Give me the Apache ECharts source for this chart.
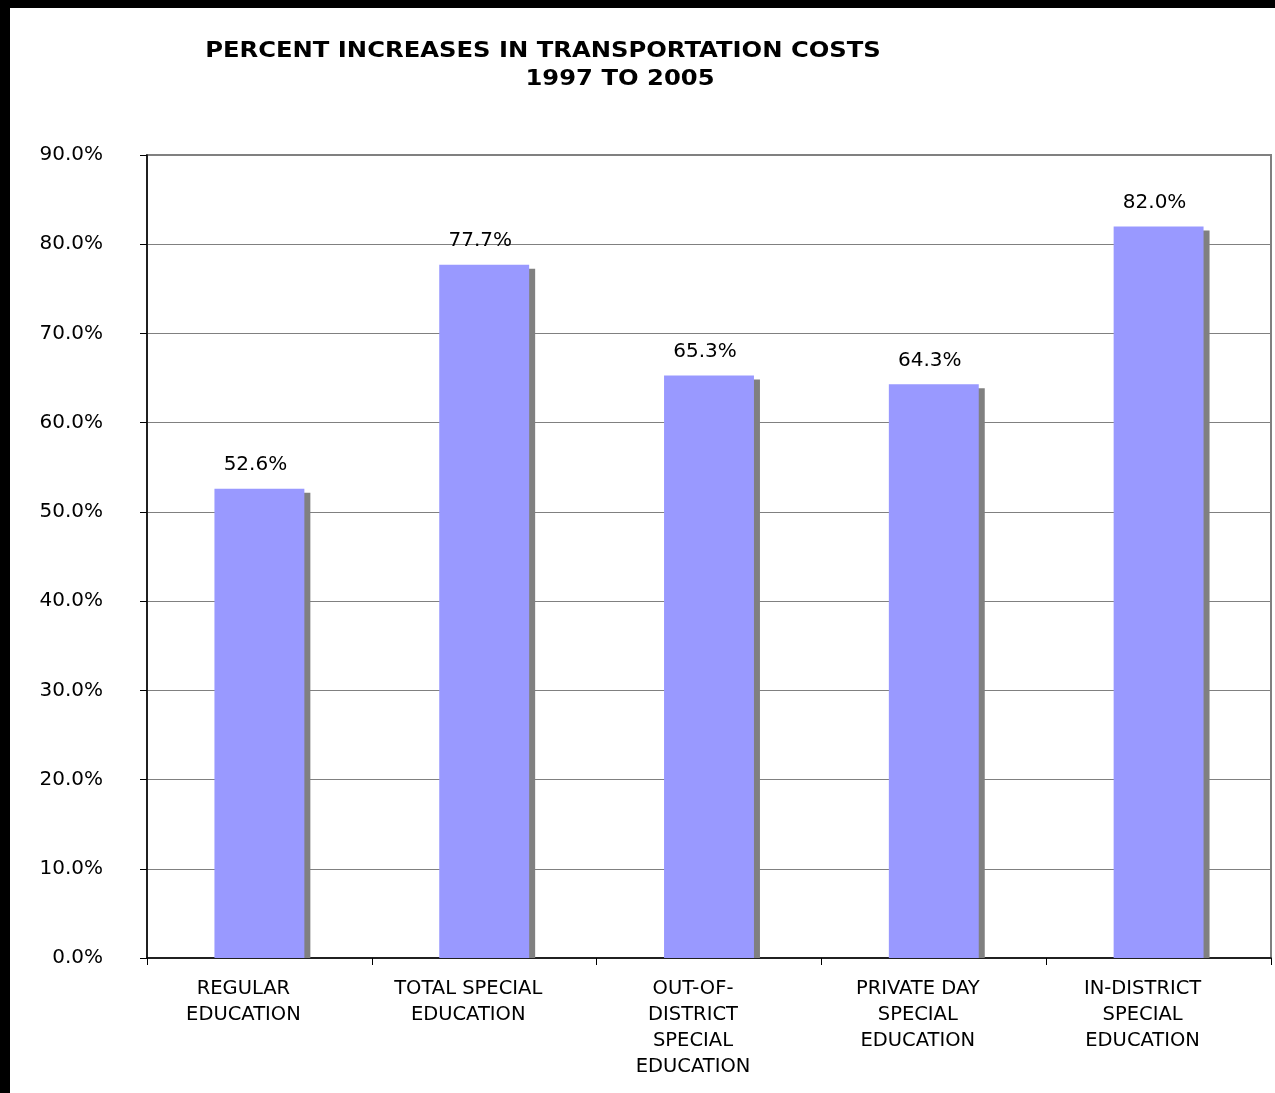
<!DOCTYPE html>
<html>
<head>
<meta charset="utf-8">
<script src="https://cdn.jsdelivr.net/npm/echarts@6/dist/echarts.min.js"></script>
<style>
  html, body { margin: 0; padding: 0; background: #000; }
  #chart { width: 1275px; height: 1093px; }
</style>
</head>
<body>
<div id="chart"></div>
<script>
// Transportation cost increases by program, 1997 to 2005
const categories = [
  'REGULAR\nEDUCATION',
  'TOTAL SPECIAL\nEDUCATION',
  'OUT-OF-\nDISTRICT\nSPECIAL\nEDUCATION',
  'PRIVATE DAY\nSPECIAL\nEDUCATION',
  'IN-DISTRICT\nSPECIAL\nEDUCATION'
];
const percentIncrease = [52.6, 77.7, 65.3, 64.3, 82.0];
const titleLines = ['PERCENT INCREASES IN TRANSPORTATION COSTS', '1997 TO 2005'];

const FONT = 'DejaVu Sans';
const BAR_RATIO = 0.4;
const chart = echarts.init(document.getElementById('chart'), null, { renderer: 'canvas' });

// drop shadow behind each bar, offset right and down, stopping at the axis
function renderShadow(params, api) {
  const top = api.coord([api.value(0), api.value(1)]);
  const base = api.coord([api.value(0), 0]);
  const w = api.size([1, 0])[0] * BAR_RATIO;
  return {
    type: 'rect',
    shape: { x: top[0] - w / 2 + 6, y: top[1] + 4, width: w, height: base[1] - top[1] - 4 },
    style: { fill: '#808080' }
  };
}

// wide bold heading, stretched a little horizontally
function titleText(text, x, y) {
  return {
    type: 'text', x: x, y: y, scaleX: 1.155, z: 10,
    style: { text: text, fill: '#000', font: 'bold 21px "' + FONT + '"',
             textAlign: 'center', textVerticalAlign: 'middle' }
  };
}

chart.setOption({
  backgroundColor: '#000',
  animation: false,
  graphic: [
    { type: 'rect', z: -10, shape: { x: 10, y: 8, width: 1265, height: 1085 }, style: { fill: '#fff' } },
    titleText(titleLines[0], 543, 52),
    titleText(titleLines[1], 620, 80)
  ],
  grid: { left: 147, right: 4, top: 155, bottom: 135, containLabel: false,
          show: true, borderColor: '#808080', borderWidth: 2, backgroundColor: 'transparent' },
  xAxis: {
    type: 'category',
    data: categories,
    axisLine: { lineStyle: { color: '#000', width: 1.5 } },
    axisTick: { show: true, length: 7, lineStyle: { color: '#000' } },
    axisLabel: { fontFamily: FONT, fontSize: 19.5, color: '#000', lineHeight: 26, margin: 18, interval: 0,
                 padding: [0, 32, 0, 0] }
  },
  yAxis: {
    type: 'value',
    min: 0, max: 90, interval: 10,
    axisLine: { show: true, lineStyle: { color: '#000', width: 1.5 } },
    axisTick: { show: true, inside: false, length: 7, lineStyle: { color: '#000' } },
    axisLabel: { fontFamily: FONT, fontSize: 20, color: '#000', margin: 44,
                 formatter: v => v.toFixed(1) + '%' },
    splitLine: { lineStyle: { color: '#808080', width: 1 } }
  },
  series: [
    {
      type: 'custom',
      z: 1,
      renderItem: renderShadow,
      data: percentIncrease.map((v, i) => [i, v]),
      encode: { x: 0, y: 1 },
      silent: true
    },
    {
      type: 'bar',
      z: 2,
      data: percentIncrease,
      barWidth: (BAR_RATIO * 100) + '%',
      itemStyle: { color: '#9999FF' },
      label: { show: true, position: 'top', distance: 14, offset: [-4, 0],
               fontFamily: FONT, fontSize: 20, color: '#000',
               formatter: p => p.value.toFixed(1) + '%' }
    }
  ]
});
</script>
</body>
</html>
